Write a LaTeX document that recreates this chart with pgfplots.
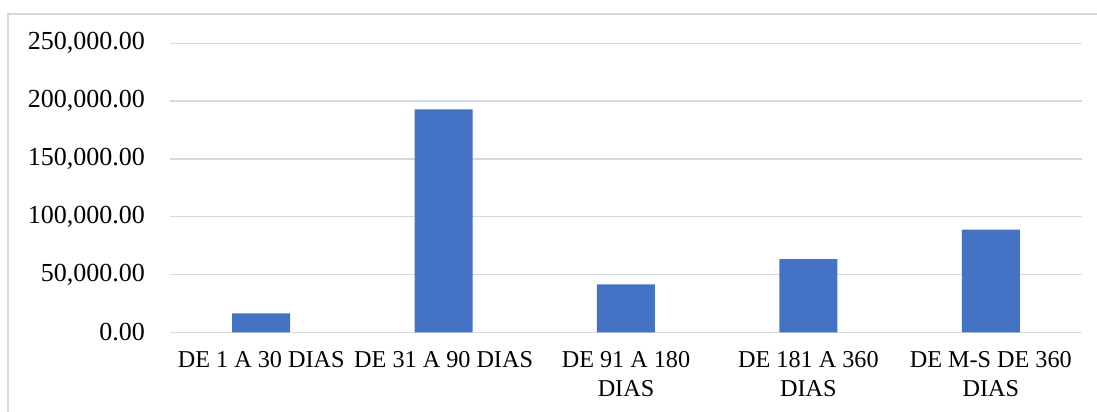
\documentclass[border=0pt]{standalone}
\usepackage{pgfplots}
\pgfplotsset{compat=1.18}
\usepackage{fontspec}
\setmainfont{Liberation Serif}
\definecolor{barblue}{RGB}{68,114,196}
\definecolor{gridgray}{RGB}{217,217,217}
\begin{document}
\begin{tikzpicture}
\fontsize{13}{15.5}\selectfont
\useasboundingbox (0,0) rectangle (548.5pt,206pt);
% chart frame (top and left edges)
\draw[gridgray, line width=0.9pt] (4pt,0) -- (4pt,199pt) -- (548.5pt,199pt);
\begin{axis}[
  at={(85pt,39.85pt)}, anchor=south west,
  scale only axis, width=456pt, height=144.5pt,
  xmin=-0.5, xmax=4.5, ymin=0, ymax=250000,
  axis line style={draw=none},
  ybar, bar width=29pt,
  ytick={0,50000,100000,150000,200000,250000},
  scaled y ticks=false,
  ymajorgrids, grid style={gridgray, line width=0.7pt},
  major tick length=0pt,
  /pgf/number format/fixed,
  /pgf/number format/fixed zerofill,
  /pgf/number format/precision=2,
  /pgf/number format/1000 sep={,},
  /pgf/number format/assume math mode=true,
  yticklabel style={xshift=-8pt, font=\fontsize{13}{15.5}\selectfont},
  xtick=data,
  xticklabels={{DE 1 A 30 DIAS},{DE 31 A 90 DIAS},{DE 91 A 180\\DIAS},{DE 181 A 360\\DIAS},{DE M-S DE 360\\DIAS}},
  xticklabel style={align=center, yshift=-4.8pt, font=\fontsize{12.1}{14.8}\selectfont},
  clip=false,
]
\addplot[fill=barblue, draw=none] coordinates {(0,16400) (1,192900) (2,41500) (3,63400) (4,88800)};
\end{axis}
\end{tikzpicture}
\end{document}
